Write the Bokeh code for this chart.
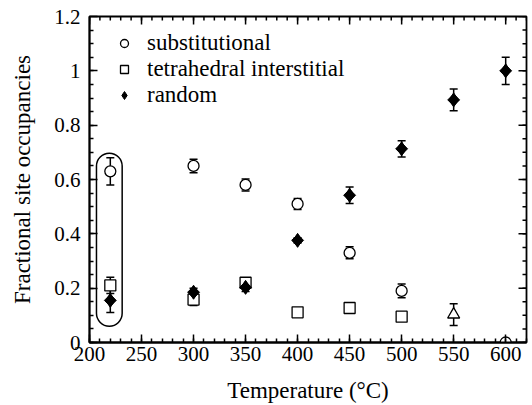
import math
from bokeh.plotting import figure
from bokeh.models import (ColumnDataSource, Whisker, TeeHead, FixedTicker,
                          CustomJSTickFormatter, Legend, LegendItem, BoxAnnotation, Range1d)
from bokeh.embed import file_html
from bokeh.resources import INLINE

# ---- data ----
temp_sub = [220, 300, 350, 400, 450, 500, 600]
sub = [0.63, 0.65, 0.58, 0.51, 0.33, 0.19, 0.0]
sub_err = [0.05, 0.025, 0.022, 0.02, 0.022, 0.025, 0.0]

temp_tet = [220, 300, 350, 400, 450, 500]
tet = [0.21, 0.158, 0.22, 0.111, 0.127, 0.095]
tet_err = [0.03, 0.022, 0.015, 0.01, 0.01, 0.01]

temp_tri = [550]
tri = [0.103]
tri_err = [0.04]

temp_rand = [220, 300, 350, 400, 450, 500, 550, 600]
rand = [0.155, 0.185, 0.203, 0.376, 0.542, 0.713, 0.893, 1.0]
rand_err = [0.045, 0.015, 0.015, 0.01, 0.03, 0.03, 0.04, 0.05]

x_ticks = [200, 250, 300, 350, 400, 450, 500, 550, 600]
x_minor = list(range(200, 621, 10))
y_ticks = [0, 0.2, 0.4, 0.6, 0.8, 1.0, 1.2]
y_minor = [i * 0.05 for i in range(0, 25)]

x_min, x_max = 200, 620
y_min, y_max = 0, 1.2

# highlighted group box (data units)
box_left, box_right, box_bottom, box_top = 206.7, 231.4, 0.06, 0.697

FONT = "'Liberation Serif', 'Times New Roman', Times, serif"

p = figure(width=532, height=405, output_backend="svg", toolbar_location=None,
           x_range=Range1d(x_min, x_max), y_range=Range1d(y_min, y_max),
           x_axis_label="Temperature (°C)", y_axis_label="Fractional site occupancies",
           min_border_left=89, min_border_right=6, min_border_top=16, min_border_bottom=62)
p.xgrid.visible = False
p.ygrid.visible = False
p.outline_line_color = "black"
p.outline_line_width = 1.8
p.outline_line_alpha = 1
p.background_fill_color = "white"
p.border_fill_color = "white"

def src(x, y, e):
    return ColumnDataSource(dict(x=x, y=y, lo=[a - b for a, b in zip(y, e)],
                                 hi=[a + b for a, b in zip(y, e)]))

s_sub = src(temp_sub, sub, sub_err)
s_tet = src(temp_tet, tet, tet_err)
s_tri = src(temp_tri, tri, tri_err)
s_rand = src(temp_rand, rand, rand_err)

for s in (s_sub, s_tet, s_tri, s_rand):
    w = Whisker(base="x", upper="hi", lower="lo", source=s, dimension="height",
                line_color="black", line_width=1.5,
                upper_head=TeeHead(size=8, line_width=1.5, line_color="black"),
                lower_head=TeeHead(size=8, line_width=1.5, line_color="black"),
                level="underlay")
    p.add_layout(w)

box = BoxAnnotation(left=box_left, right=box_right, bottom=box_bottom, top=box_top,
                    fill_color=None, fill_alpha=0, line_color="black", line_alpha=1,
                    line_width=1.5, border_radius=13)
p.add_layout(box)

# inward ticks on top and right edges (mirrored from bottom/left)
p.ray(x=x_ticks, y=[y_max] * len(x_ticks), length=8, length_units="screen",
      angle=-math.pi / 2, line_color="black", line_width=1.5)
p.ray(x=x_minor, y=[y_max] * len(x_minor), length=4, length_units="screen",
      angle=-math.pi / 2, line_color="black", line_width=1.5)
p.ray(x=[x_max] * len(y_ticks), y=y_ticks, length=8, length_units="screen",
      angle=math.pi, line_color="black", line_width=1.5)
p.ray(x=[x_max] * len(y_minor), y=y_minor, length=4, length_units="screen",
      angle=math.pi, line_color="black", line_width=1.5)

r_sub = p.scatter("x", "y", source=s_sub, marker="circle", size=11,
                  fill_color="white", line_color="black", line_width=1.3)
r_tet = p.scatter("x", "y", source=s_tet, marker="square", size=11,
                  fill_color="white", line_color="black", line_width=1.3)
r_tri = p.scatter("x", "y", source=s_tri, marker="triangle", size=12,
                  fill_color="white", line_color="black", line_width=1.3)
# filled diamonds: a tall diamond merged with a rotated square (wider body)
r_rand = p.scatter("x", "y", source=s_rand, marker="diamond", size=14,
                   fill_color="black", line_color="black", line_width=1)
p.scatter("x", "y", source=s_rand, marker="square", angle=math.pi / 4, size=8.4,
          fill_color="black", line_color="black", line_width=1)

legend = Legend(items=[LegendItem(label="substitutional", renderers=[r_sub]),
                       LegendItem(label="tetrahedral interstitial", renderers=[r_tet]),
                       LegendItem(label="random", renderers=[r_rand])],
                location="top_left", margin=14, padding=0, spacing=-4,
                glyph_width=42, glyph_height=20, label_height=20, label_standoff=2,
                label_text_font=FONT, label_text_font_size="23px",
                label_text_color="black",
                border_line_alpha=0, background_fill_alpha=0)
p.add_layout(legend)

fmt = CustomJSTickFormatter(code="return String(Number(tick.toFixed(2)));")

def style_axis(ax, ticks, minor):
    ax.ticker = FixedTicker(ticks=ticks, minor_ticks=minor)
    ax.axis_line_width = 1.8
    ax.axis_line_color = "black"
    ax.major_tick_in = 8
    ax.major_tick_out = 0
    ax.minor_tick_in = 4
    ax.minor_tick_out = 0
    ax.major_tick_line_width = 1.5
    ax.minor_tick_line_width = 1.5
    ax.major_tick_line_color = "black"
    ax.minor_tick_line_color = "black"
    ax.major_label_text_font = FONT
    ax.major_label_text_font_size = "21px"
    ax.major_label_text_color = "black"
    ax.axis_label_text_font = FONT
    ax.axis_label_text_font_size = "23px"
    ax.axis_label_text_font_style = "normal"
    ax.axis_label_text_color = "black"
    ax.formatter = fmt

style_axis(p.xaxis[0], x_ticks, x_minor)
style_axis(p.yaxis[0], y_ticks, y_minor)
p.xaxis[0].major_label_standoff = 4
p.xaxis[0].axis_label_standoff = 14
p.yaxis[0].major_label_standoff = 9
p.yaxis[0].axis_label_standoff = 16

open("out.html", "w").write(file_html(p, INLINE))
